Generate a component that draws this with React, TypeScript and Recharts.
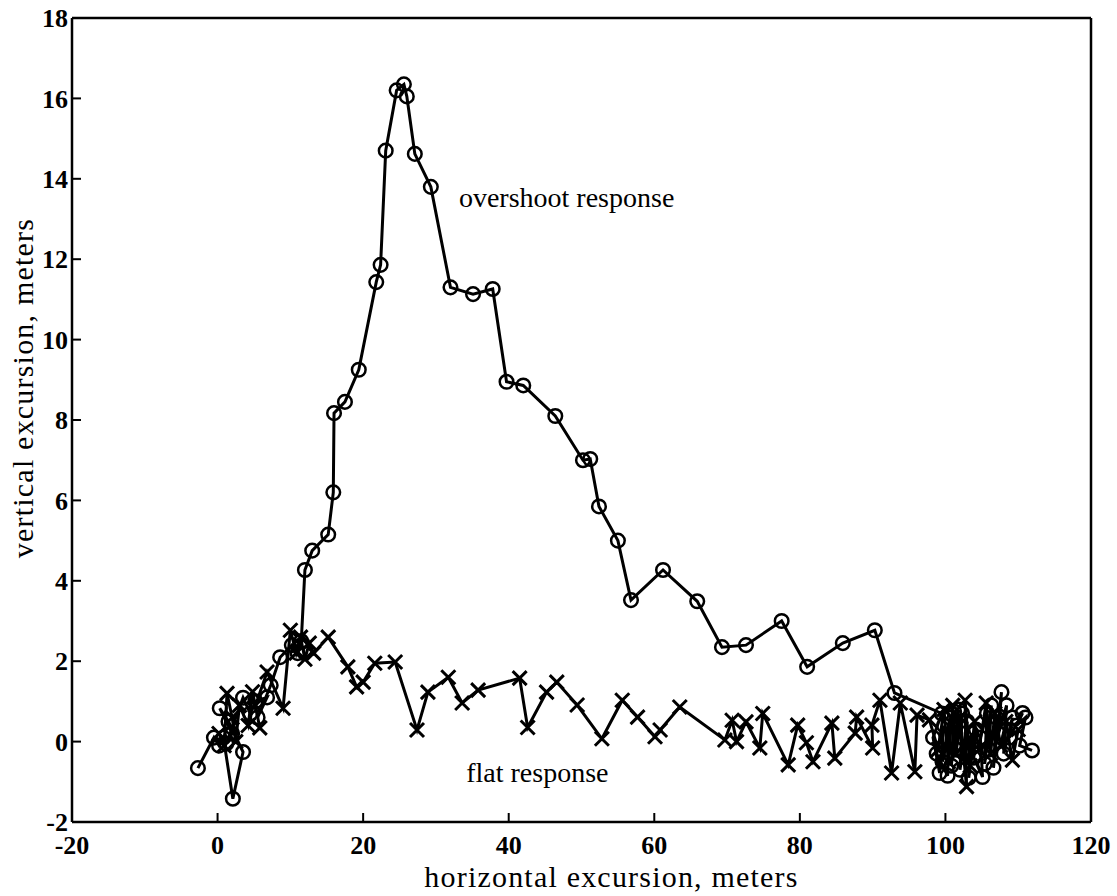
import React from 'react';
import { LineChart, Line, XAxis, YAxis, ReferenceDot } from 'recharts';

const overshootX = [
  -2.7, -0.5, 0.2, 0.8, 2.1, 3.5, 1.5, 0.3, 2.0, 1.2, 3.5, 4.5, 5.2, 6.8, 5.5, 7.3, 8.6, 10.2, 11.0, 11.5,
  12.0, 13.0, 15.2, 15.9, 16.0, 17.5, 19.4, 21.8, 22.4, 23.1, 24.6, 25.6, 26.0, 27.1, 29.3, 32.0, 35.1, 37.8,
  39.7, 42.0, 46.4, 50.2, 51.2, 52.4, 55.0, 56.8, 61.2, 65.9, 69.3, 72.6, 77.5, 81.0, 85.9, 90.3, 93.0,
  99.5, 98.3, 99.2, 99.8, 98.8, 100.3, 100.6, 99.6, 101.2, 100.8, 101.8, 101.5, 102.3, 102.0, 103.0, 102.6,
  103.6, 103.2, 104.2, 103.9, 105.1, 104.8, 105.7, 105.4, 106.3, 106.0, 107.0, 106.6, 107.7, 107.3, 108.4,
  108.0, 109.2, 108.8, 110.6, 109.8, 111.0, 110.2, 111.9,
];
const overshootY = [
  -0.66, 0.1, -0.1, 0.1, -1.42, -0.26, 0.5, 0.83, 0.2, -0.05, 1.09, 0.7, 1.0, 1.1, 0.6, 1.4, 2.1, 2.4, 2.2, 2.5,
  4.27, 4.75, 5.15, 6.2, 8.17, 8.45, 9.25, 11.43, 11.86, 14.7, 16.2, 16.35, 16.05, 14.62, 13.8, 11.3, 11.13, 11.26,
  8.95, 8.86, 8.1, 7.0, 7.03, 5.85, 5.0, 3.52, 4.27, 3.49, 2.35, 2.4, 3.0, 1.86, 2.45, 2.77, 1.21,
  0.7, 0.1, -0.78, 0.4, -0.3, -0.85, 0.6, -0.5, 0.75, -0.6, 0.8, -0.2, 0.7, -0.7, 0.5, -0.3,
  0.21, -0.9, 0.3, -0.4, -0.88, 0.1, 0.7, -0.55, 0.9, -0.2, 0.6, -0.65, 1.23, 0.2, 0.9,
  -0.3, 0.6, 0.1, 0.71, 0.4, 0.6, -0.1, -0.22,
];

const flatX = [
  0.2, 0.9, 1.3, 2.0, 2.5, 3.0, 4.2, 4.8, 5.8, 5.2, 6.8, 9.0, 10.0, 10.8, 11.4, 12.0, 12.6, 13.2, 15.2, 17.9,
  19.1, 20.0, 21.6, 24.4, 27.4, 28.9, 31.7, 33.6, 35.8, 41.5, 42.6, 45.2, 46.6, 49.4, 52.8, 55.6, 57.7, 60.1,
  60.8, 63.5, 69.7, 70.7, 71.3, 72.6, 74.5, 74.9, 78.4, 79.7, 80.9, 81.8, 84.4, 84.8, 87.6, 87.8, 90.0, 89.9,
  91.0, 92.6, 93.8, 95.8, 96.1, 97.8, 99.0, 99.8, 100.4, 101.0, 101.4, 102.0, 102.9, 102.7, 103.4, 104.0,
  104.6, 105.6, 106.2, 106.8, 107.6, 108.3, 109.2, 110.0,
];
const flatY = [
  0.2, -0.1, 1.2, 0.6, 0.0, 0.9, 0.4, 1.24, 0.34, 0.9, 1.73, 0.83, 2.77, 2.2, 2.6, 2.05, 2.45, 2.2, 2.6, 1.86,
  1.36, 1.48, 1.95, 1.98, 0.29, 1.23, 1.6, 0.96, 1.28, 1.58, 0.35, 1.23, 1.48, 0.91, 0.07, 1.03, 0.61, 0.12,
  0.29, 0.86, 0.04, 0.53, 0.0, 0.49, -0.16, 0.7, -0.58, 0.41, -0.03, -0.5, 0.46, -0.41, 0.21, 0.61, -0.16, 0.41,
  1.03, -0.78, 0.96, -0.75, 0.66, 0.54, -0.2, 0.8, -0.5, 0.9, -0.3, 0.6, -1.12, 1.03, -0.6, 0.5,
  -0.2, 0.96, -0.3, 0.7, -0.1, 0.5, -0.46, 0.3,
];

const xTicks = [-20, 0, 20, 40, 60, 80, 100, 120];
const yTicks = [-2, 0, 2, 4, 6, 8, 10, 12, 14, 16, 18];

const overshootData = overshootX.map((x, i) => ({ x, y: overshootY[i] }));
const flatData = flatX.map((x, i) => ({ x, y: flatY[i] }));

const FONT = '"Liberation Serif", "Times New Roman", serif';

const CircleDot = (props: any) => {
  const { cx, cy, index } = props;
  if (cx == null || cy == null) return <g key={`c${index}`} />;
  return <circle key={`c${index}`} cx={cx} cy={cy} r={6.8} fill="none" stroke="#000" strokeWidth={2.5} />;
};

const CrossDot = (props: any) => {
  const { cx, cy, index } = props;
  if (cx == null || cy == null) return <g key={`x${index}`} />;
  const s = 7;
  return (
    <path
      key={`x${index}`}
      d={`M${cx - s},${cy - s}L${cx + s},${cy + s}M${cx + s},${cy - s}L${cx - s},${cy + s}`}
      stroke="#000"
      strokeWidth={3}
      fill="none"
    />
  );
};

const tickStyle = { fontFamily: FONT, fontSize: 26, fontWeight: 700, fill: '#000' };

const XLabel = (props: any) => {
  const vb = props.viewBox;
  return (
    <text x={vb.x + vb.width / 2 + 30} y={vb.y + 65} textAnchor="middle" fontFamily={FONT} fontSize={30} letterSpacing={1.2} fill="#000">
      horizontal excursion, meters
    </text>
  );
};

const YLabel = (props: any) => {
  const vb = props.viewBox;
  const cx = 33;
  const cy = vb.y + vb.height / 2 - 32;
  return (
    <text x={cx} y={cy} transform={`rotate(-90, ${cx}, ${cy})`} textAnchor="middle" fontFamily={FONT} fontSize={30} letterSpacing={1.2} fill="#000">
      vertical excursion, meters
    </text>
  );
};

const makeAnno = (text: string) => (props: any) => {
  const vb = props.viewBox;
  return (
    <text x={vb.x} y={vb.y} textAnchor="start" dominantBaseline="central" fontFamily={FONT} fontSize={28} fill="#000">
      {text}
    </text>
  );
};

const frameLine = { stroke: '#000', strokeWidth: 2.5 };
const tickLineStyle = { stroke: '#000', strokeWidth: 2 };

export default function App() {
  return (
    <div style={{ position: 'absolute', left: 0, top: 0, background: '#fff' }}>
      <LineChart width={1117} height={896} margin={{ top: 17, right: 25, left: 0, bottom: 0 }}>
        <XAxis
          xAxisId="b"
          type="number"
          dataKey="x"
          domain={[-20, 120]}
          ticks={xTicks}
          interval={0}
          allowDataOverflow
          height={74}
          tickSize={-9}
          tickMargin={23}
          tick={tickStyle}
          axisLine={frameLine}
          tickLine={tickLineStyle}
          label={<XLabel />}
        />
        <XAxis
          xAxisId="t"
          orientation="top"
          type="number"
          dataKey="x"
          domain={[-20, 120]}
          ticks={xTicks}
          interval={0}
          allowDataOverflow
          height={1}
          tickSize={-9}
          tick={false}
          axisLine={frameLine}
          tickLine={tickLineStyle}
        />
        <YAxis
          yAxisId="l"
          type="number"
          domain={[-2, 18]}
          ticks={yTicks}
          interval={0}
          allowDataOverflow
          width={72}
          tickSize={-9}
          tickMargin={13}
          tick={tickStyle}
          axisLine={frameLine}
          tickLine={tickLineStyle}
          label={<YLabel />}
        />
        <YAxis
          yAxisId="r"
          orientation="right"
          type="number"
          domain={[-2, 18]}
          ticks={yTicks}
          interval={0}
          allowDataOverflow
          width={1}
          tickSize={-9}
          tick={false}
          axisLine={frameLine}
          tickLine={tickLineStyle}
        />
        <Line
          xAxisId="b"
          yAxisId="l"
          data={flatData}
          dataKey="y"
          type="linear"
          stroke="#000"
          strokeWidth={3}
          dot={CrossDot}
          activeDot={false}
          isAnimationActive={false}
        />
        <Line
          xAxisId="b"
          yAxisId="l"
          data={overshootData}
          dataKey="y"
          type="linear"
          stroke="#000"
          strokeWidth={3}
          dot={CircleDot}
          activeDot={false}
          isAnimationActive={false}
        />
        <Line xAxisId="t" yAxisId="r" data={overshootData} dataKey="y" stroke="none" dot={false} activeDot={false} isAnimationActive={false} />
        <ReferenceDot xAxisId="b" yAxisId="l" x={33.3} y={13.5} r={1} fill="none" stroke="none" label={{ content: makeAnno('overshoot response') }} />
        <ReferenceDot xAxisId="b" yAxisId="l" x={34.3} y={-0.8} r={1} fill="none" stroke="none" label={{ content: makeAnno('flat response') }} />
      </LineChart>
    </div>
  );
}
